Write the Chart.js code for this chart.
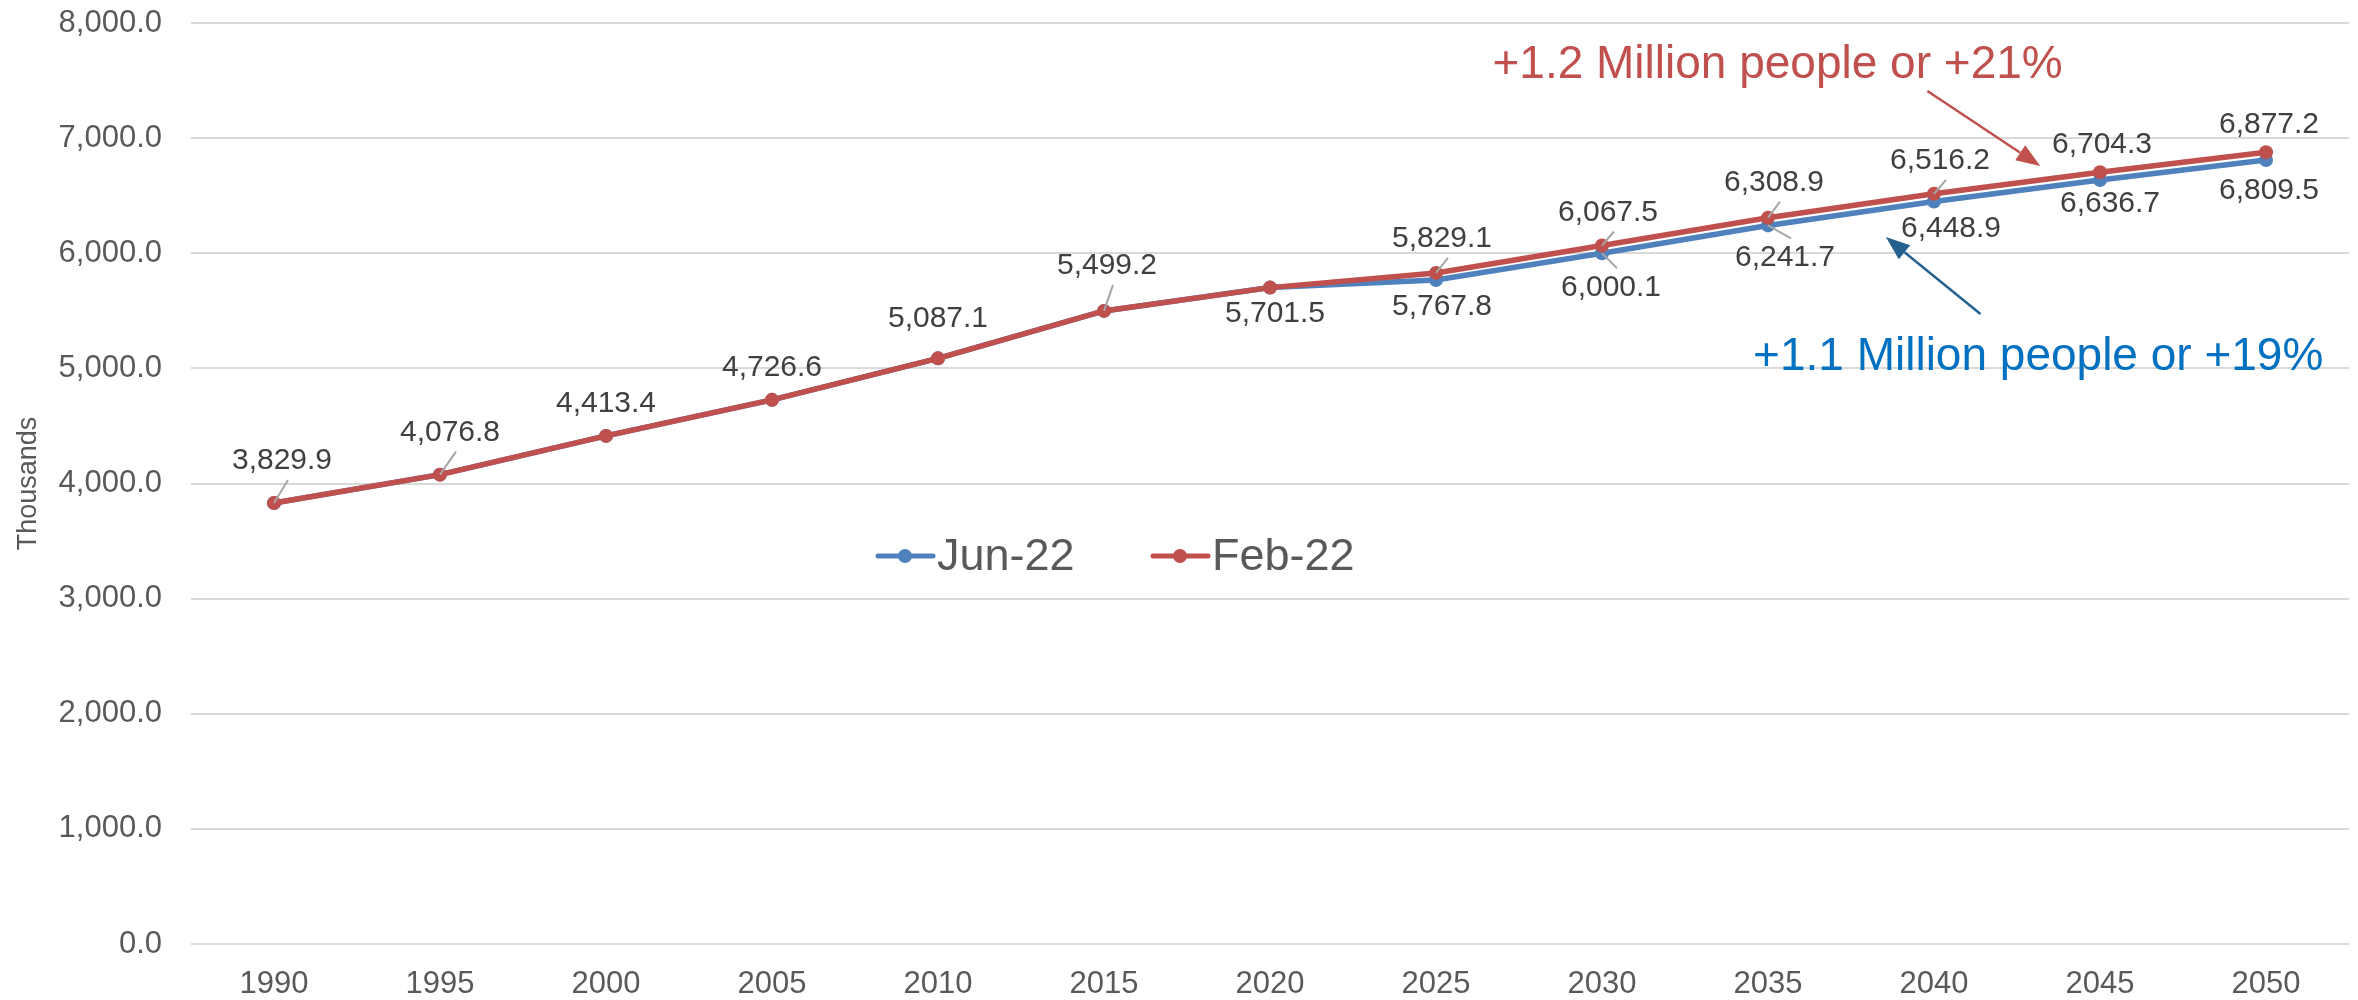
<!DOCTYPE html>
<html>
<head>
<meta charset="utf-8">
<script src="https://cdn.jsdelivr.net/npm/chart.js@4.4.1/dist/chart.umd.min.js"></script>
<style>
  html, body { margin: 0; padding: 0; background: #fff; }
  #wrap { width: 2358px; height: 1000px; }
</style>
</head>
<body>
<div id="wrap"><canvas id="chart" width="2358" height="1000"></canvas></div>
<script>
const YEARS = ['1990', '1995', '2000', '2005', '2010', '2015', '2020', '2025', '2030', '2035', '2040', '2045', '2050'];
const JUN_22 = [3829.9, 4076.8, 4413.4, 4726.6, 5087.1, 5499.2, 5701.5, 5767.8, 6000.1, 6241.7, 6448.9, 6636.7, 6809.5];
const FEB_22 = [3829.9, 4076.8, 4413.4, 4726.6, 5087.1, 5499.2, 5701.5, 5829.1, 6067.5, 6308.9, 6516.2, 6704.3, 6877.2];
const Y_MIN = 0;
const Y_MAX = 8000;
const Y_STEP = 1000;
const NOTE_FEB = '+1.2 Million people or +21%';
const NOTE_JUN = '+1.1 Million people or +19%';

const RED = '#C0504D';
const BLUE = '#4F81BD';
const GREY_TEXT = '#595959';
const FONT = '"Liberation Sans", Arial, sans-serif';

const fmt = (v) => v.toLocaleString('en-US', { minimumFractionDigits: 1, maximumFractionDigits: 1 });

// label placement per dataset index: point index -> [dx, dy, leader]
const labelLayout = {
  0: { // Jun-22, labels below
    6: [5, 26, false], 7: [6, 27, false], 8: [9, 34, true], 9: [17, 32, true],
    10: [17, 27, false], 11: [10, 24, false], 12: [3, 31, false],
  },
  1: { // Feb-22, labels above
    0: [8, -42, true], 1: [10, -42, true], 2: [0, -32, false], 3: [0, -32, false],
    4: [0, -40, false], 5: [3, -45, true], 7: [6, -34, true], 8: [6, -33, true],
    9: [6, -35, true], 10: [6, -33, true], 11: [2, -27, false], 12: [3, -28, false],
  },
};

const dataLabels = {
  id: 'dataLabels',
  afterDatasetsDraw(chart) {
    const ctx = chart.ctx;
    ctx.save();
    ctx.font = '30px ' + FONT;
    ctx.textAlign = 'center';
    ctx.textBaseline = 'middle';
    chart.data.datasets.forEach((ds, di) => {
      const layout = labelLayout[di] || {};
      const meta = chart.getDatasetMeta(di);
      meta.data.forEach((pt, i) => {
        const cfg = layout[i];
        if (!cfg) return;
        const [dx, dy, leader] = cfg;
        const lx = pt.x + dx, ly = pt.y + dy;
        if (leader) {
          ctx.strokeStyle = '#A6A6A6';
          ctx.lineWidth = 2;
          ctx.beginPath();
          ctx.moveTo(pt.x, pt.y);
          ctx.lineTo(lx + 6, ly + (dy < 0 ? 19 : -19));
          ctx.stroke();
        }
        ctx.fillStyle = '#404040';
        ctx.fillText(fmt(ds.data[i]), lx, ly);
      });
    });
    ctx.restore();
  },
};

function arrow(ctx, x1, y1, x2, y2, color) {
  const ang = Math.atan2(y2 - y1, x2 - x1);
  const len = 24, half = 9;
  const bx = x2 - Math.cos(ang) * len, by = y2 - Math.sin(ang) * len;
  ctx.strokeStyle = color;
  ctx.fillStyle = color;
  ctx.lineWidth = 2.5;
  ctx.beginPath();
  ctx.moveTo(x1, y1);
  ctx.lineTo(bx, by);
  ctx.stroke();
  ctx.beginPath();
  ctx.moveTo(x2, y2);
  ctx.lineTo(bx + Math.sin(ang) * half, by - Math.cos(ang) * half);
  ctx.lineTo(bx - Math.sin(ang) * half, by + Math.cos(ang) * half);
  ctx.closePath();
  ctx.fill();
}

const notes = {
  id: 'notes',
  afterDraw(chart) {
    const ctx = chart.ctx;
    const xs = chart.scales.x, ys = chart.scales.y;
    const x0 = xs.getPixelForValue(0), step = xs.getPixelForValue(1) - x0;
    const px = (idx) => x0 + idx * step;
    const py = (v) => ys.getPixelForValue(v);
    ctx.save();
    ctx.font = '46px ' + FONT;
    ctx.textAlign = 'left';
    ctx.textBaseline = 'alphabetic';
    ctx.fillStyle = RED;
    ctx.fillText(NOTE_FEB, px(7.34), py(7522));
    ctx.fillStyle = '#0070C0';
    ctx.fillText(NOTE_JUN, px(8.91), py(4986));
    arrow(ctx, px(9.96), py(7409), px(10.64), py(6758), RED);
    arrow(ctx, px(10.28), py(5472), px(9.71), py(6141), '#24618F');

    // legend inside the plot
    const items = [['Jun-22', BLUE, 878], ['Feb-22', RED, 1153]];
    const ly = 556;
    ctx.font = '45px ' + FONT;
    ctx.textBaseline = 'middle';
    items.forEach(([label, color, x]) => {
      ctx.strokeStyle = color;
      ctx.fillStyle = color;
      ctx.lineWidth = 5;
      ctx.lineCap = 'round';
      ctx.beginPath();
      ctx.moveTo(x, ly);
      ctx.lineTo(x + 55, ly);
      ctx.stroke();
      ctx.beginPath();
      ctx.arc(x + 27, ly, 7, 0, Math.PI * 2);
      ctx.fill();
      ctx.fillStyle = GREY_TEXT;
      ctx.fillText(label, x + 59, ly + 2);
    });
    ctx.restore();
  },
};

const lineStyle = (color) => ({
  borderColor: color,
  backgroundColor: color,
  pointBackgroundColor: color,
  pointBorderColor: color,
  borderWidth: 5.5,
  pointRadius: 7,
  pointBorderWidth: 0,
  pointHoverRadius: 7,
  tension: 0,
  fill: false,
});

new Chart(document.getElementById('chart'), {
  type: 'line',
  data: {
    labels: YEARS,
    datasets: [
      { label: 'Jun-22', data: JUN_22, order: 1, ...lineStyle(BLUE) },
      { label: 'Feb-22', data: FEB_22, order: 0, ...lineStyle(RED) },
    ],
  },
  options: {
    responsive: false,
    animation: false,
    devicePixelRatio: 1,
    layout: { padding: { top: 23, right: 9, left: 0, bottom: 0 } },
    plugins: {
      legend: { display: false },
      tooltip: { enabled: false },
    },
    scales: {
      x: {
        offset: true,
        grid: { display: false, drawTicks: false },
        border: { display: false },
        ticks: { color: GREY_TEXT, font: { family: FONT, size: 31 }, padding: 22, maxRotation: 0 },
        afterFit(scale) { scale.height = 56; },
      },
      y: {
        min: Y_MIN,
        max: Y_MAX,
        ticks: {
          stepSize: Y_STEP,
          color: GREY_TEXT,
          font: { family: FONT, size: 31 },
          padding: 3,
          callback: (v) => fmt(v),
        },
        grid: { color: '#D9D9D9', lineWidth: 2, drawTicks: true, tickLength: 26, tickColor: 'rgba(0,0,0,0)' },
        border: { display: false },
        title: {
          display: true,
          text: 'Thousands',
          color: GREY_TEXT,
          font: { family: FONT, size: 27 },
          padding: { top: 12, bottom: 0 },
        },
        afterFit(scale) { scale.width = 191; },
      },
    },
  },
  plugins: [dataLabels, notes],
});
</script>
</body>
</html>
